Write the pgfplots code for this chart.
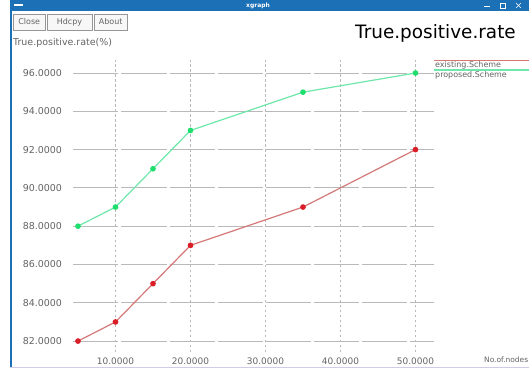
\documentclass[border=0pt]{standalone}
\usepackage{fontspec}
\setmainfont{DejaVu Sans}
\usepackage{pgfplots}
\pgfplotsset{compat=1.18}

\definecolor{tbar}{RGB}{28,112,182}
\definecolor{propline}{RGB}{110,232,170}
\definecolor{propmark}{RGB}{30,222,110}
\definecolor{exline}{RGB}{212,120,120}
\definecolor{exmark}{RGB}{218,30,40}
\definecolor{gridc}{RGB}{185,185,185}
\definecolor{labc}{RGB}{100,100,100}
\definecolor{btnc}{RGB}{150,150,150}
\definecolor{bedge}{RGB}{205,205,232}

\begin{document}
\begin{tikzpicture}
% the plot area's lower left corner sits at the origin; the window
% furniture is drawn in a frame shifted by (-73.5bp,-16bp)
\begin{scope}[x=1bp,y=1bp,shift={(-73.5bp,-16bp)}]
\clip (0,0) rectangle (529,368);
\fill[white] (0,0) rectangle (529,368);

% window frame: title bar, left border, bottom edge
\fill[tbar] (10,357) rectangle (529,368);
\fill[white] (14,361.5) rectangle (23,363.5);
\node[white,font=\fontsize{6}{6}\selectfont\bfseries] at (258,362.5) {xgraph};
\fill[white] (484,360.5) rectangle (490,361.5);
\draw[white,line width=0.6bp] (500,360) rectangle (505,365);
\draw[white,line width=0.6bp] (516,360) -- (521,365) (516,365) -- (521,360);
\fill[tbar] (10,0) rectangle (12.5,357);
\fill[bedge] (10,0) rectangle (529,1.5);

% buttons
\begin{scope}[font=\fontsize{8}{8}\selectfont, text=labc]
\draw[btnc,fill=gray!6] (13.5,338) rectangle (45,354);
\node at (29.25,346) {Close};
\draw[btnc,fill=gray!6] (47,338) rectangle (92,354);
\node at (69.5,346) {Hdcpy};
\draw[btnc,fill=gray!6] (94.5,338) rectangle (127,354);
\node at (110.75,346) {About};
\end{scope}

% titles
\node[anchor=west,font=\fontsize{9.5}{9.5}\selectfont,text=labc,inner sep=0] at (13,325) {True.positive.rate(\%)};
\node[anchor=east,font=\fontsize{18.5}{18.5}\selectfont,inner sep=0] at (516,335) {True.positive.rate};
\node[anchor=west,font=\fontsize{7.5}{7.5}\selectfont,text=labc,inner sep=0] at (484,8) {No.of.nodes};

% legend
\draw[exline,line width=1.2bp] (434,307.3) -- (529,307.3);
\node[anchor=west,font=\fontsize{8}{8}\selectfont,text=labc,inner sep=0] at (435,302.3) {existing.Scheme};
\draw[propline,line width=1.2bp] (434,298) -- (529,298);
\node[anchor=west,font=\fontsize{8}{8}\selectfont,text=labc,inner sep=0] at (435,293) {proposed.Scheme};
\end{scope}

\begin{axis}[
  anchor=south west,
  scale only axis, width=360.75bp, height=292bp,
  xmin=4.4, xmax=52.5, ymin=81.43, ymax=96.68,
  axis line style={draw=none},
  xtick={10,20,30,40,50}, ytick={82,84,86,88,90,92,94,96},
  major tick length=0pt,
  grid=major,
  x grid style={gridc,line width=0.9bp,dash pattern=on 2.5bp off 2.5bp},
  y grid style={gridc,line width=1bp,dash pattern=on 45bp off 3bp},
  /pgf/number format/.cd, fixed, fixed zerofill, precision=4, assume math mode=true,
  /pgfplots/.cd,
  tick label style={font=\fontsize{9.5}{9.5}\selectfont, text=labc},
  xticklabel style={anchor=center, yshift=-9.5bp, font=\fontsize{9}{9}\selectfont},
  yticklabel style={anchor=east, xshift=-8bp},
  clip=false,
]
\addplot[exline, line width=1.2bp, mark=*, mark size=2.2bp,
  mark options={fill=exmark, draw=exmark}]
  coordinates {(5,82) (10,83) (15,85) (20,87) (35,89) (50,92)};
\addplot[propline, line width=1.2bp, mark=*, mark size=2.2bp,
  mark options={fill=propmark, draw=propmark}]
  coordinates {(5,88) (10,89) (15,91) (20,93) (35,95) (50,96)};
\end{axis}
\pgfresetboundingbox
\useasboundingbox (-73.5bp,-16bp) rectangle (455.5bp,352bp);
\end{tikzpicture}
\end{document}
